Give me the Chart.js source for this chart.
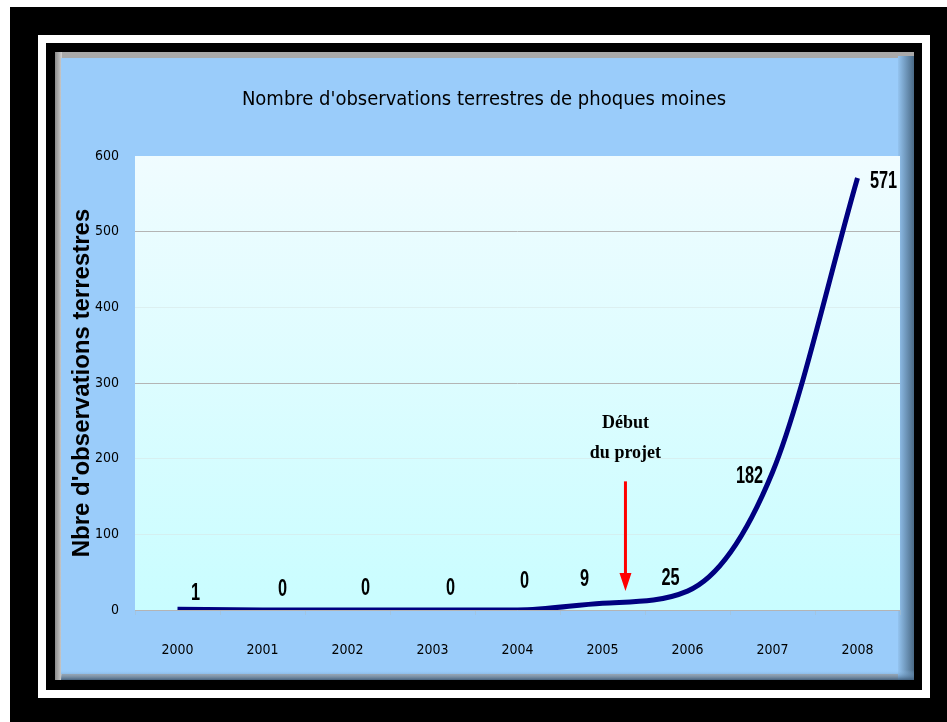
<!DOCTYPE html>
<html lang="fr">
<head>
<meta charset="utf-8">
<title>Nombre d'observations terrestres de phoques moines</title>
<script src="https://cdn.jsdelivr.net/npm/chart.js@4/dist/chart.umd.min.js"></script>
<style>
  html, body { margin: 0; padding: 0; background: #fff; }
  #wrap { width: 947px; height: 722px; }
</style>
</head>
<body>
<div id="wrap"><canvas id="sealChart" width="947" height="722"></canvas></div>
<script>
// Data
const years = ["2000", "2001", "2002", "2003", "2004", "2005", "2006", "2007", "2008"];
const observations = [1, 0, 0, 0, 0, 9, 25, 182, 571];
const yTicks = [0, 100, 200, 300, 400, 500, 600];

// where each value label sits relative to its point (px)
const labelOffsets = [[18, -16], [20, -21], [18, -22], [18, -22], [7, -29], [-18, -24], [-17, -13], [-23, 4], [26, 3]];

document.addEventListener("DOMContentLoaded", function () {
  const ctx = document.getElementById("sealChart").getContext("2d");
  const narrow = "'DejaVu Sans Condensed', 'Liberation Sans Narrow', 'Arial Narrow', sans-serif";

  // Frame, panel and plot background
  const backgroundPlugin = {
    id: "frameBackground",
    beforeDraw(chart) {
      const c = chart.ctx;
      const a = chart.chartArea;
      c.save();
      c.fillStyle = "#fff";
      c.fillRect(0, 0, 947, 722);
      c.fillStyle = "#000";
      c.fillRect(10, 7, 937, 715);
      // white frame line
      c.strokeStyle = "#fff";
      c.lineWidth = 8;
      c.strokeRect(42, 39, 884, 655);
      // panel bevel
      c.fillStyle = "#a9a9a9";
      c.fillRect(55, 52, 859, 628);
      let g = c.createLinearGradient(55, 0, 62, 0);
      g.addColorStop(0, "#8c8c8c");
      g.addColorStop(1, "#d0d0d0");
      c.fillStyle = g;
      c.fillRect(55, 52, 7, 628);
      // light blue panel
      c.fillStyle = "#9accfa";
      c.fillRect(61, 58, 839, 616);
      g = c.createLinearGradient(898, 0, 914, 0);
      g.addColorStop(0, "#94c4f0");
      g.addColorStop(1, "#4a6a86");
      c.fillStyle = g;
      c.fillRect(898, 56, 16, 624);
      g = c.createLinearGradient(0, 670, 0, 680);
      g.addColorStop(0, "rgba(154,204,250,0)");
      g.addColorStop(1, "rgba(60,90,120,0.9)");
      c.fillStyle = g;
      c.fillRect(61, 670, 853, 10);
      // plot area gradient
      g = c.createLinearGradient(0, a.top, 0, a.bottom);
      g.addColorStop(0, "#f0fcff");
      g.addColorStop(1, "#c9fdff");
      c.fillStyle = g;
      c.fillRect(a.left, a.top, a.right - a.left, a.bottom - a.top);
      c.restore();
    }
  };

  // Value labels and the "Début du projet" arrow
  const labelPlugin = {
    id: "valueLabels",
    afterDatasetsDraw(chart) {
      const c = chart.ctx;
      const meta = chart.getDatasetMeta(0);
      c.save();
      c.fillStyle = "#000";
      c.font = "bold 24px 'Liberation Sans', Arial, sans-serif";
      c.textAlign = "center";
      c.textBaseline = "middle";
      meta.data.forEach(function (pt, i) {
        const off = labelOffsets[i];
        // squeeze the text sideways to get the tall narrow look
        c.save();
        c.translate(pt.x + off[0], pt.y + off[1]);
        c.scale(0.68, 1);
        c.fillText(String(observations[i]), 0, 0);
        c.restore();
      });

      // arrow marking the start of the project
      const xs = chart.scales.x;
      const ys = chart.scales.y;
      const ax = xs.getPixelForValue(5.27);
      const top = ys.getPixelForValue(170);
      const tip = ys.getPixelForValue(25);
      c.strokeStyle = "#ff0000";
      c.fillStyle = "#ff0000";
      c.lineWidth = 3;
      c.beginPath();
      c.moveTo(ax, top);
      c.lineTo(ax, tip - 16);
      c.stroke();
      c.beginPath();
      c.moveTo(ax - 6, tip - 18);
      c.lineTo(ax + 6, tip - 18);
      c.lineTo(ax, tip);
      c.closePath();
      c.fill();

      c.fillStyle = "#000";
      c.font = "bold 18px 'Liberation Serif', 'Times New Roman', serif";
      c.fillText("Début", ax, top - 58);
      c.fillText("du projet", ax, top - 28);
      c.restore();
    }
  };

  new Chart(ctx, {
    type: "line",
    data: {
      labels: years,
      datasets: [
        {
          label: "Observations terrestres",
          data: observations,
          borderColor: "#000080",
          borderWidth: 5,
          cubicInterpolationMode: "monotone",
          pointRadius: 0,
          fill: false,
        },
      ],
    },
    options: {
      responsive: false,
      animation: false,
      devicePixelRatio: 1,
      layout: { padding: { top: 77, left: 68, right: 47, bottom: 52 } },
      plugins: {
        legend: { display: false },
        tooltip: { enabled: false },
        title: {
          display: true,
          text: "Nombre d'observations terrestres de phoques moines",
          color: "#000",
          font: { family: narrow, size: 20, weight: "normal" },
          padding: { top: 11, bottom: 44 },
        },
      },
      scales: {
        x: {
          offset: true,
          grid: {
            offset: true,
            drawOnChartArea: false,
            drawTicks: true,
            tickLength: 5,
            color: "rgba(170,190,200,0.5)",
          },
          border: { display: false },
          ticks: { color: "#000", padding: 27, font: { family: narrow, size: 14 } },
          afterFit(scale) { scale.height = 60; },
        },
        y: {
          min: 0,
          max: 600,
          afterBuildTicks(scale) {
            scale.ticks = yTicks.map(function (v) { return { value: v }; });
          },
          grid: {
            drawTicks: false,
            color(context) {
              const v = context.tick && context.tick.value;
              if (v === 0 || v === 300 || v === 500) return "#b4b4b4";
              if (v === 600) return "rgba(0,0,0,0)";
              return "rgba(215,230,230,0.6)";
            },
          },
          border: { display: false },
          ticks: { color: "#000", padding: 16, font: { family: narrow, size: 14 } },
          title: {
            display: true,
            text: "Nbre d'observations terrestres",
            color: "#000",
            font: { family: "'Liberation Sans', Arial, sans-serif", size: 24, weight: "bold" },
            padding: { top: 0, bottom: 0 },
          },
          afterFit(scale) { scale.width = 67; },
        },
      },
    },
    plugins: [backgroundPlugin, labelPlugin],
  });
});
</script>
</body>
</html>
